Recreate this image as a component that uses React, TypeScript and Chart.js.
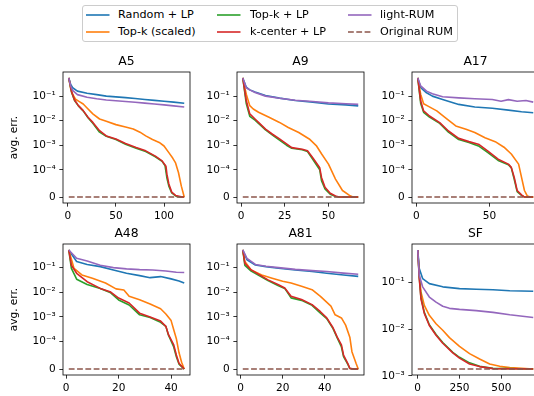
import React, { useEffect, useRef } from 'react';
import { Chart, registerables, Scale } from 'chart.js';

Chart.register(...registerables);

type Pt = [number, number];

// ---------------- data (k, avg. err.) ----------------
const SERIES_NAMES = ['Random + LP', 'Top-k (scaled)', 'Top-k + LP', 'k-center + LP', 'light-RUM', 'Original RUM'];
const SERIES_COLORS = ['#1f77b4', '#ff7f0e', '#2ca02c', '#d62728', '#9467bd', '#8c564b'];
const PANEL_TITLES = ['A5', 'A9', 'A17', 'A48', 'A81', 'SF'];

const A5_RANDOM_LP: Pt[] = [[1, .55], [3, .3], [5, .22], [10, .16], [20, .13], [30, .115], [40, .1], [50, .093], [60, .087], [70, .08], [80, .073], [90, .067], [100, .062], [110, .057], [121, .051]];
const A5_TOPK_SCALED: Pt[] = [[1, .55], [3, .2], [5, .12], [8, .075], [12, .06], [16, .048], [20, .033], [26, .019], [33, .0117], [40, .0094], [50, .0069], [60, .0055], [68, .0046], [75, .0034], [81, .0024], [88, .0017], [95, .0013], [100, .00093], [105, .0005], [109, .0003], [112, .00019], [115, .00009], [118, .00004], [121, 0]];
const A5_TOPK_LP: Pt[] = [[1, .55], [4, .14], [7, .066], [11, .04], [16, .025], [21, .0132], [26, .0078], [33, .0034], [40, .0023], [50, .0017], [60, .0011], [71, .00075], [81, .00055], [91, .00034], [98, .00022], [101, .00015], [103, .00007], [105, .00004], [108, .000015], [112, .000004], [116, 0], [121, 0]];
const A5_KCENTER_LP: Pt[] = [[1, .55], [4, .146], [7, .07], [11, .041], [16, .0257], [21, .0138], [26, .0085], [33, .0039], [40, .0024], [50, .00178], [60, .00117], [71, .0008], [81, .00059], [91, .00036], [98, .00023], [102, .00014], [103, .000084], [105, .000048], [108, .000018], [112, .000006], [119, 0], [121, 0]];
const A5_LIGHT_RUM: Pt[] = [[1, .55], [3, .26], [5, .17], [10, .115], [20, .09], [30, .078], [40, .07], [50, .065], [60, .06], [70, .056], [80, .052], [90, .048], [100, .044], [110, .04], [121, .036]];
const A5_ORIGINAL: Pt[] = [[1, 0], [121, 0]];

const A9_RANDOM_LP: Pt[] = [[1, .55], [3, .23], [5, .18], [8, .146], [14, .106], [22, .083], [31, .066], [41, .057], [50, .048], [60, .044], [67, .04]];
const A9_TOPK_SCALED: Pt[] = [[1, .55], [3, .12], [5, .041], [7, .03], [10, .022], [16, .0137], [22, .0085], [27, .0053], [33, .0033], [39, .0018], [43, .00097], [46, .00045], [50, .00017], [54, .000066], [58, .000024], [62, .000006], [64, 0], [67, 0]];
const A9_TOPK_LP: Pt[] = [[1, .55], [3, .05], [5, .015], [8, .0105], [10, .0078], [14, .0042], [18, .0026], [22, .0016], [26, .001], [29, .00075], [35, .00065], [38, .00055], [41, .00027], [45, .0001], [46, .00006], [48, .00003], [51, .00001], [54, .000002], [56, 0], [67, 0]];
const A9_KCENTER_LP: Pt[] = [[1, .55], [3, .066], [5, .0188], [8, .0117], [10, .0085], [14, .0045], [18, .0028], [22, .0018], [26, .00114], [29, .0008], [35, .00069], [38, .00059], [41, .00031], [45, .00012], [46, .000072], [48, .000036], [51, .000014], [54, .0000036], [56, 0], [67, 0]];
const A9_LIGHT_RUM: Pt[] = [[1, .55], [3, .22], [5, .18], [8, .14], [14, .1], [22, .082], [31, .068], [41, .06], [50, .053], [60, .049], [67, .046]];
const A9_ORIGINAL: Pt[] = [[1, 0], [67, 0]];

const A17_RANDOM_LP: Pt[] = [[1, .55], [3, .22], [7, .137], [11, .1], [18, .073], [29, .046], [40, .036], [52, .032], [63, .027], [72, .023], [80, .021]];
const A17_TOPK_SCALED: Pt[] = [[1, .55], [3, .117], [5, .049], [8, .039], [14, .025], [20, .013], [27, .0061], [34, .0045], [40, .0033], [47, .002], [54, .0014], [60, .00083], [65, .00044], [70, .00017], [72, .000072], [74, .000024], [76, .0000036], [78, 0], [80, 0]];
const A17_TOPK_LP: Pt[] = [[1, .55], [3, .05], [5, .022], [9, .014], [16, .0078], [22, .0034], [29, .0017], [36, .0013], [43, .0009], [49, .0005], [56, .00024], [63, .00016], [65, .00012], [67, .000065], [69, .00002], [72, .000006], [74, 0], [80, 0]];
const A17_KCENTER_LP: Pt[] = [[1, .55], [3, .063], [5, .025], [9, .0155], [16, .0083], [22, .0038], [29, .0019], [36, .0014], [43, .00106], [49, .00058], [56, .00027], [63, .00017], [65, .000125], [67, .000072], [69, .000024], [72, .000008], [74, 0], [80, 0]];
const A17_LIGHT_RUM: Pt[] = [[1, .55], [3, .26], [7, .16], [11, .125], [18, .094], [29, .085], [40, .078], [52, .073], [58, .062], [63, .072], [69, .062], [75, .066], [80, .057]];
const A17_ORIGINAL: Pt[] = [[1, 0], [80, 0]];

const A48_RANDOM_LP: Pt[] = [[1, .5], [4, .17], [8, .13], [13, .106], [18, .078], [23, .057], [28, .046], [32, .038], [36, .042], [40, .034], [43, .028], [45, .023]];
const A48_TOPK_SCALED: Pt[] = [[1, .5], [3, .09], [6, .049], [10, .036], [15, .023], [19, .0134], [22, .012], [24, .0067], [28, .0049], [32, .0033], [36, .0021], [38, .0013], [40, .0007], [41, .0003], [42, .00013], [43, .00006], [44, .000025], [45, 0]];
const A48_TOPK_LP: Pt[] = [[1, .5], [2, .09], [4, .033], [8, .02], [13, .014], [17, .0093], [20, .0048], [24, .003], [28, .0012], [32, .00093], [36, .0006], [38, .00041], [39, .00018], [41, .00008], [42, .000045], [43, .000018], [45, 0]];
const A48_KCENTER_LP: Pt[] = [[1, .5], [2, .12], [4, .057], [8, .026], [13, .014], [17, .01], [20, .0057], [24, .0036], [28, .0014], [32, .00097], [36, .00067], [38, .00041], [39, .00019], [41, .000088], [42, .000051], [43, .000021], [45, 0]];
const A48_LIGHT_RUM: Pt[] = [[1, .5], [4, .23], [8, .18], [13, .12], [18, .097], [23, .086], [28, .08], [33, .078], [38, .071], [42, .063], [45, .061]];
const A48_ORIGINAL: Pt[] = [[1, 0], [45, 0]];

const A81_RANDOM_LP: Pt[] = [[1, .5], [3, .2], [7, .124], [12, .106], [18, .091], [26, .078], [34, .067], [41, .057], [49, .049], [56, .043]];
const A81_TOPK_SCALED: Pt[] = [[1, .5], [2, .17], [5, .078], [10, .049], [15, .036], [20, .027], [24, .023], [29, .017], [34, .0124], [38, .0067], [43, .0027], [45, .0012], [48, .0009], [50, .00046], [52, .00015], [53, .000063], [55, .00002], [56, 0]];
const A81_TOPK_LP: Pt[] = [[1, .5], [2, .12], [5, .07], [9, .045], [13, .029], [18, .018], [21, .014], [24, .0058], [29, .0046], [34, .0029], [38, .0014], [41, .00085], [44, .00033], [46, .00014], [48, .00008], [49, .000045], [51, .000018], [52, .000002], [54, 0], [56, 0]];
const A81_KCENTER_LP: Pt[] = [[1, .5], [2, .145], [5, .078], [9, .049], [13, .031], [18, .0195], [21, .0145], [24, .0067], [29, .005], [34, .0031], [38, .0016], [41, .0009], [44, .00036], [46, .00015], [48, .000088], [49, .000051], [51, .000021], [52, .0000024], [54, 0], [56, 0]];
const A81_LIGHT_RUM: Pt[] = [[1, .5], [3, .23], [7, .13], [12, .11], [18, .097], [26, .082], [34, .073], [41, .067], [49, .058], [56, .052]];
const A81_ORIGINAL: Pt[] = [[1, 0], [56, 0]];

const SF_RANDOM_LP: Pt[] = [[1, .5], [10, .2], [30, .122], [70, .095], [150, .081], [250, .074], [350, .072], [450, .07], [550, .067], [690, .065]];
const SF_TOPK_SCALED: Pt[] = [[1, .5], [10, .144], [20, .063], [40, .0324], [70, .0198], [110, .0131], [150, .0095], [190, .0066], [250, .0043], [310, .003], [370, .0023], [430, .0018], [490, .0016], [550, .0015], [690, .0014]];
const SF_TOPK_LP: Pt[] = [[1, .5], [10, .13], [20, .048], [40, .023], [70, .0125], [110, .0077], [150, .0052], [210, .0032], [250, .0025], [310, .0019], [370, .0016], [450, .00145], [690, .0014]];
const SF_KCENTER_LP: Pt[] = [[1, .5], [10, .122], [20, .045], [40, .0218], [70, .012], [110, .0074], [150, .005], [210, .0031], [250, .0024], [310, .0018], [370, .00158], [450, .00143], [690, .0014]];
const SF_LIGHT_RUM: Pt[] = [[1, .5], [10, .144], [30, .081], [70, .049], [110, .038], [150, .031], [190, .028], [250, .0266], [350, .025], [450, .023], [550, .0204], [690, .0178]];
const SF_ORIGINAL: Pt[] = [[1, .0014], [690, .0014]];

const A5_X_TICKS = [0, 50, 100];
const A9_X_TICKS = [0, 25, 50];
const A17_X_TICKS = [0, 50];
const A48_X_TICKS = [0, 20, 40];
const A81_X_TICKS = [0, 20, 40];
const SF_X_TICKS = [0, 250, 500];
const SYMLOG_Y_TICKS = [0, 1e-4, 1e-3, 1e-2, 1e-1];
const SYMLOG_Y_LABELS = ['0', '10⁻⁴', '10⁻³', '10⁻²', '10⁻¹'];
const LOG_Y_TICKS = [1e-3, 1e-2, 1e-1];
const LOG_Y_LABELS = ['10⁻³', '10⁻²', '10⁻¹'];
const Y_AXIS_LABEL = 'avg. err.';

// ---------------- symlog scale ----------------
const LINTHRESH = 1e-4;
const LINSCALE = 1 / (1 - 1 / 10);
function symT(v: number) {
  const a = Math.abs(v);
  const t = a <= LINTHRESH ? (a / LINTHRESH) * LINSCALE : LINSCALE + Math.log10(a / LINTHRESH);
  return v < 0 ? -t : t;
}
function symInv(t: number) {
  const a = Math.abs(t);
  const v = a <= LINSCALE ? (a / LINSCALE) * LINTHRESH : LINTHRESH * Math.pow(10, a - LINSCALE);
  return t < 0 ? -v : v;
}

class SymlogScale extends (Scale as any) {
  static id = 'symlog';
  static defaults = {};
  determineDataLimits() {
    const { min, max } = (this as any).getMinMax(true);
    const t0 = symT(min), t1 = symT(max);
    const m = (t1 - t0) * 0.05;
    (this as any).min = symInv(t0 - m);
    (this as any).max = symInv(t1 + m);
  }
  buildTicks() {
    return [];
  }
  getLabelForValue(v: number) {
    return String(v);
  }
  configure() {
    super.configure();
    (this as any)._tMin = symT((this as any).min);
    (this as any)._tRange = symT((this as any).max) - symT((this as any).min);
  }
  getPixelForValue(v: number) {
    return (this as any).getPixelForDecimal((symT(v) - (this as any)._tMin) / (this as any)._tRange);
  }
  getValueForPixel(p: number) {
    return symInv((this as any)._tMin + (this as any).getDecimalForPixel(p) * (this as any)._tRange);
  }
}
Chart.register(SymlogScale as any);

// ---------------- layout ----------------
const FONT = 'DejaVu Sans';
Chart.defaults.font.family = FONT;
Chart.defaults.font.size = 10.5;
Chart.defaults.color = '#000';

const Y_W = 63;
const PLOT_W = 127;
const PLOT_H = 131;
const TITLE_H = 20;
const X_H = 20;
const PAD_R = 4;
const CANVAS_W = Y_W + PLOT_W + PAD_R;
const CANVAS_H = TITLE_H + PLOT_H + X_H;

const PANELS = [
  { title: PANEL_TITLES[0], series: [A5_RANDOM_LP, A5_TOPK_SCALED, A5_TOPK_LP, A5_KCENTER_LP, A5_LIGHT_RUM, A5_ORIGINAL], xTicks: A5_X_TICKS, log: false, yLabel: true, left: 0, top: 52 },
  { title: PANEL_TITLES[1], series: [A9_RANDOM_LP, A9_TOPK_SCALED, A9_TOPK_LP, A9_KCENTER_LP, A9_LIGHT_RUM, A9_ORIGINAL], xTicks: A9_X_TICKS, log: false, yLabel: false, left: 174, top: 52 },
  { title: PANEL_TITLES[2], series: [A17_RANDOM_LP, A17_TOPK_SCALED, A17_TOPK_LP, A17_KCENTER_LP, A17_LIGHT_RUM, A17_ORIGINAL], xTicks: A17_X_TICKS, log: false, yLabel: false, left: 349, top: 52 },
  { title: PANEL_TITLES[3], series: [A48_RANDOM_LP, A48_TOPK_SCALED, A48_TOPK_LP, A48_KCENTER_LP, A48_LIGHT_RUM, A48_ORIGINAL], xTicks: A48_X_TICKS, log: false, yLabel: true, left: 0, top: 224 },
  { title: PANEL_TITLES[4], series: [A81_RANDOM_LP, A81_TOPK_SCALED, A81_TOPK_LP, A81_KCENTER_LP, A81_LIGHT_RUM, A81_ORIGINAL], xTicks: A81_X_TICKS, log: false, yLabel: false, left: 174, top: 224 },
  { title: PANEL_TITLES[5], series: [SF_RANDOM_LP, SF_TOPK_SCALED, SF_TOPK_LP, SF_KCENTER_LP, SF_LIGHT_RUM, SF_ORIGINAL], xTicks: SF_X_TICKS, log: true, yLabel: false, left: 349, top: 224 },
];

const framePlugin = {
  id: 'frame',
  afterDatasetsDraw(chart: any) {
    const { ctx, chartArea: a } = chart;
    ctx.save();
    ctx.strokeStyle = '#000';
    ctx.lineWidth = 0.8;
    ctx.strokeRect(a.left, a.top, a.right - a.left, a.bottom - a.top);
    ctx.restore();
  },
};

const TICK_LEN = 3.65;

function Panel({ p }: { p: (typeof PANELS)[number] }) {
  const ref = useRef<HTMLCanvasElement>(null);
  useEffect(() => {
    const allX = p.series.flat().map((d) => d[0]);
    const xs = Math.min(...allX), xe = Math.max(...allX);
    const xm = (xe - xs) * 0.05;
    const datasets = p.series.map((s, i) => ({
      label: SERIES_NAMES[i],
      data: s.map(([x, y]) => ({ x, y })),
      borderColor: SERIES_COLORS[i],
      backgroundColor: SERIES_COLORS[i],
      borderWidth: 1.6,
      borderDash: i === 5 ? [5.8, 2.5] : [],
      borderJoinStyle: 'round',
      pointRadius: 0,
      tension: 0,
      fill: false,
      order: 6 - i,
    }));
    let yScale: any;
    const common = {
      position: 'left',
      grid: { drawOnChartArea: false, drawTicks: true, tickLength: TICK_LEN, tickWidth: 0.8, tickColor: '#000' },
      border: { display: false },
      title: { display: p.yLabel, text: Y_AXIS_LABEL, color: '#000', font: { size: 10.5 }, padding: { top: 8, bottom: 0 } },
      afterFit: (s: any) => { s.width = Y_W; },
    };
    if (p.log) {
      const ys = p.series.flat().map((d) => d[1]).filter((v) => v > 0);
      const lo = Math.log10(Math.min(...ys)), hi = Math.log10(Math.max(...ys));
      const r = hi - lo;
      yScale = {
        ...common,
        type: 'logarithmic',
        min: Math.pow(10, lo - 0.05 * r),
        max: Math.pow(10, hi + 0.05 * r),
        afterBuildTicks: (s: any) => { s.ticks = LOG_Y_TICKS.map((v) => ({ value: v })); },
        ticks: { padding: TICK_LEN, color: '#000', autoSkip: false, callback: (v: number) => LOG_Y_LABELS[LOG_Y_TICKS.findIndex((t) => Math.abs(t - v) < t * 1e-6)] ?? '' },
      };
    } else {
      yScale = {
        ...common,
        type: 'symlog',
        afterBuildTicks: (s: any) => { s.ticks = SYMLOG_Y_TICKS.map((v) => ({ value: v })); },
        ticks: { padding: TICK_LEN, color: '#000', autoSkip: false, callback: (v: number) => SYMLOG_Y_LABELS[SYMLOG_Y_TICKS.indexOf(v)] ?? '' },
      };
    }
    const chart = new Chart(ref.current!, {
      type: 'line',
      data: { datasets: datasets as any },
      plugins: [framePlugin],
      options: {
        responsive: false,
        animation: false,
        devicePixelRatio: 1,
        layout: { padding: { left: 0, top: 0, bottom: 0, right: PAD_R } },
        plugins: {
          legend: { display: false },
          tooltip: { enabled: false },
          title: {
            display: true,
            text: p.title,
            color: '#000',
            fullSize: false,
            font: { size: 12.4, weight: 'normal', lineHeight: 1.2 },
            padding: { top: 2.56, bottom: 2.56 },
          },
        },
        scales: {
          x: {
            type: 'linear',
            position: 'bottom',
            min: xs - xm,
            max: xe + xm,
            grid: { drawOnChartArea: false, drawTicks: true, tickLength: TICK_LEN, tickWidth: 0.8, tickColor: '#000' },
            border: { display: false },
            afterBuildTicks: (s: any) => { s.ticks = p.xTicks.map((v) => ({ value: v })); },
            afterFit: (s: any) => { s.height = X_H; },
            ticks: { padding: TICK_LEN, color: '#000', autoSkip: false, maxRotation: 0, callback: (v: number) => String(v) },
          },
          y: yScale,
        },
      } as any,
    });
    return () => chart.destroy();
  }, []);
  return (
    <canvas
      ref={ref}
      width={CANVAS_W}
      height={CANVAS_H}
      style={{ position: 'absolute', left: p.left, top: p.top, width: CANVAS_W, height: CANVAS_H }}
    />
  );
}

const LEGEND_ITEMS = [
  { i: 0, hx: 86, tx: 118, cy: 15 },
  { i: 1, hx: 86, tx: 118, cy: 32.3 },
  { i: 2, hx: 217, tx: 250, cy: 15 },
  { i: 3, hx: 217, tx: 250, cy: 32.3 },
  { i: 4, hx: 348, tx: 380, cy: 15 },
  { i: 5, hx: 348, tx: 380, cy: 32.3 },
];

export default function App() {
  return (
    <div style={{ position: 'absolute', left: 0, top: 0, width: 534, height: 396, overflow: 'hidden', background: '#fff' }}>
      {PANELS.map((p) => (
        <Panel key={p.title} p={p} />
      ))}
      <div
        style={{
          position: 'absolute', left: 82, top: 5, width: 376, height: 37, boxSizing: 'border-box',
          border: '1px solid #cccccc', borderRadius: 3, background: 'rgba(255,255,255,0.8)',
        }}
      />
      {LEGEND_ITEMS.map((it) => (
        <React.Fragment key={it.i}>
          <svg width={24} height={10} style={{ position: 'absolute', left: it.hx, top: it.cy - 5 }}>
            <line x1={0} y1={5} x2={23.5} y2={5} stroke={SERIES_COLORS[it.i]} strokeWidth={1.6}
              strokeDasharray={it.i === 5 ? '5.8 2.5' : undefined} />
          </svg>
          <span
            style={{
              position: 'absolute', left: it.tx, top: it.cy - 8, height: 16, lineHeight: '16px',
              fontFamily: FONT, fontSize: 11.2, color: '#000', whiteSpace: 'nowrap',
            }}
          >
            {SERIES_NAMES[it.i]}
          </span>
        </React.Fragment>
      ))}
    </div>
  );
}
